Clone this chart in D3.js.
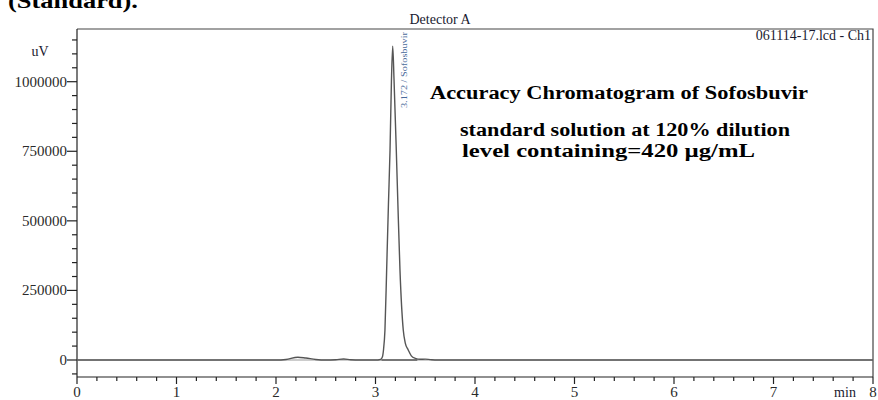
<!DOCTYPE html>
<html>
<head>
<meta charset="utf-8">
<script src="https://cdn.jsdelivr.net/npm/d3@7"></script>
<style>
  body { margin: 0; background: #fff; }
  text { font-family: "Liberation Serif", "Times New Roman", serif; }
</style>
</head>
<body>
<svg id="chart" width="878" height="400"></svg>
<script>
// retention time (min) and detector signal (uV)
const timeMin = [0, 1, 2.0, 2.1, 2.22, 2.3, 2.4, 2.5, 2.6, 2.68, 2.75, 2.85, 3.0, 3.05, 3.07, 3.08, 3.095, 3.112, 3.13, 3.146, 3.16, 3.173, 3.186, 3.209, 3.225, 3.246, 3.279, 3.30, 3.329, 3.36, 3.40, 3.45, 3.50, 3.55, 3.62, 4, 5, 5.7, 6, 7, 8];
const signalUv = [0, 0, 0, 2000, 10000, 7000, 2000, 0, 1000, 3500, 1000, 0, 0, 2000, 12000, 35000, 108000, 323000, 560000, 754000, 1000000, 1128000, 1010000, 754000, 560000, 323000, 108000, 60000, 36000, 15000, 6000, 2500, 3000, 1500, 0, 0, 0, 0, 0, 0, 0];

const xTickValues = [0, 1, 2, 3, 4, 5, 6, 7, 8];
const yTickValues = [0, 250000, 500000, 750000, 1000000];
const peakLabel = "3.172 / Sofosbuvir";
const peakTime = 3.172;
const noteLines = ["Accuracy Chromatogram of Sofosbuvir", "standard solution at 120% dilution", "level containing=420 µg/mL"];

const svg = d3.select('svg#chart');
const plotLeft = 77, plotRight = 873, plotTop = 29, plotBottom = 377;

let x = d3.scaleLinear().domain([0, 8]).range([plotLeft, plotRight]);
let y = d3.scaleLinear().domain([0, 1000000]).range([360, 81.7]);

// frame (top and right)
svg.append('path')
    .attr('d', `M${plotLeft},${plotTop} H${plotRight} V${plotBottom}`)
    .attr('fill', 'none')
    .attr('stroke', '#444')
    .attr('stroke-width', 1.2);

// y axis with minor ticks every 50000
let yAxis = svg.append('g').attr('transform', `translate(${plotLeft},0)`);
yAxis.append('line').attr('x1', 0).attr('x2', 0).attr('y1', plotTop).attr('y2', plotBottom)
    .attr('stroke', '#222').attr('stroke-width', 1.2);
yAxis.selectAll('line.minor')
    .data(d3.range(-50000, 1150001, 50000))
    .enter().append('line')
    .attr('class', 'minor')
    .attr('x1', d => d % 250000 === 0 ? -10 : -5)
    .attr('x2', 0)
    .attr('y1', d => y(d)).attr('y2', d => y(d))
    .attr('stroke', '#222').attr('stroke-width', 1.2);
yAxis.selectAll('text')
    .data(yTickValues)
    .enter().append('text')
    .attr('x', -10)
    .attr('y', d => y(d) + 5)
    .attr('text-anchor', 'end')
    .attr('font-size', 15)
    .attr('fill', '#2a2a2a')
    .text(d => d);
svg.append('text').attr('x', 40).attr('y', 56).attr('text-anchor', 'middle')
    .attr('font-size', 14).attr('fill', '#1a1a30').text('uV');

// x axis, minor ticks every 0.2 min
let xAxis = svg.append('g').attr('transform', `translate(0,${plotBottom})`);
xAxis.append('line').attr('x1', plotLeft).attr('x2', plotRight).attr('y1', 0).attr('y2', 0)
    .attr('stroke', '#222').attr('stroke-width', 1.2);
xAxis.selectAll('line.tick')
    .data(d3.range(0, 41).map(i => i / 5))
    .enter().append('line')
    .attr('class', 'tick')
    .attr('x1', d => x(d)).attr('x2', d => x(d))
    .attr('y1', 0)
    .attr('y2', d => Number.isInteger(d) ? 7 : 4)
    .attr('stroke', '#222').attr('stroke-width', 1.2);
xAxis.selectAll('text')
    .data(xTickValues)
    .enter().append('text')
    .attr('x', d => x(d))
    .attr('y', 20)
    .attr('text-anchor', 'middle')
    .attr('font-size', 15)
    .attr('fill', '#2a2a2a')
    .text(d => d);
svg.append('text').attr('x', 845).attr('y', 397).attr('text-anchor', 'middle')
    .attr('font-size', 14).attr('fill', '#1a1a30').text('min');

// zero baseline
svg.append('line')
    .attr('x1', plotLeft).attr('x2', plotRight)
    .attr('y1', y(0)).attr('y2', y(0))
    .attr('stroke', '#999').attr('stroke-width', 1);

// integration baseline under the peak
svg.append('line')
    .attr('x1', x(3.06)).attr('x2', x(3.42))
    .attr('y1', y(0)).attr('y2', y(0))
    .attr('stroke', '#222').attr('stroke-width', 1);

// trace
let points = timeMin.map((t, i) => [t, signalUv[i]]);
let line = d3.line()
    .x(d => x(d[0]))
    .y(d => y(d[1]))
    .curve(d3.curveMonotoneX);
svg.append('path')
    .datum(points)
    .attr('d', line)
    .attr('fill', 'none')
    .attr('stroke', '#555')
    .attr('stroke-width', 1.4);

// peak label, rotated
svg.append('text')
    .attr('transform', `translate(${x(peakTime) + 14},108) rotate(-90)`)
    .attr('font-family', '"Liberation Sans", Arial, sans-serif')
    .attr('font-size', 8.5)
    .attr('fill', '#4a6a9a')
    .attr('textLength', 76)
    .attr('lengthAdjust', 'spacingAndGlyphs')
    .text(peakLabel);

// headers
svg.append('text').attr('x', 8).attr('y', 8)
    .attr('font-size', 21).attr('font-weight', 'bold')
    .attr('textLength', 130).attr('lengthAdjust', 'spacingAndGlyphs')
    .text('(Standard).');
svg.append('text').attr('x', 440).attr('y', 24).attr('text-anchor', 'middle')
    .attr('font-size', 14).attr('fill', '#1a1a30').text('Detector A');
svg.append('text').attr('x', 871).attr('y', 40).attr('text-anchor', 'end')
    .attr('font-size', 14).attr('fill', '#1a1a30').text('061114-17.lcd - Ch1');

// annotation block
let noteX = [430, 460, 462];
let noteY = [99, 136, 157];
let noteW = [378, 330, 293];
svg.selectAll('text.note')
    .data(noteLines)
    .enter().append('text')
    .attr('class', 'note')
    .attr('x', (d, i) => noteX[i])
    .attr('y', (d, i) => noteY[i])
    .attr('font-size', 18)
    .attr('font-weight', 'bold')
    .attr('fill', '#000')
    .attr('textLength', (d, i) => noteW[i])
    .attr('lengthAdjust', 'spacingAndGlyphs')
    .text(d => d);
</script>
</body>
</html>
